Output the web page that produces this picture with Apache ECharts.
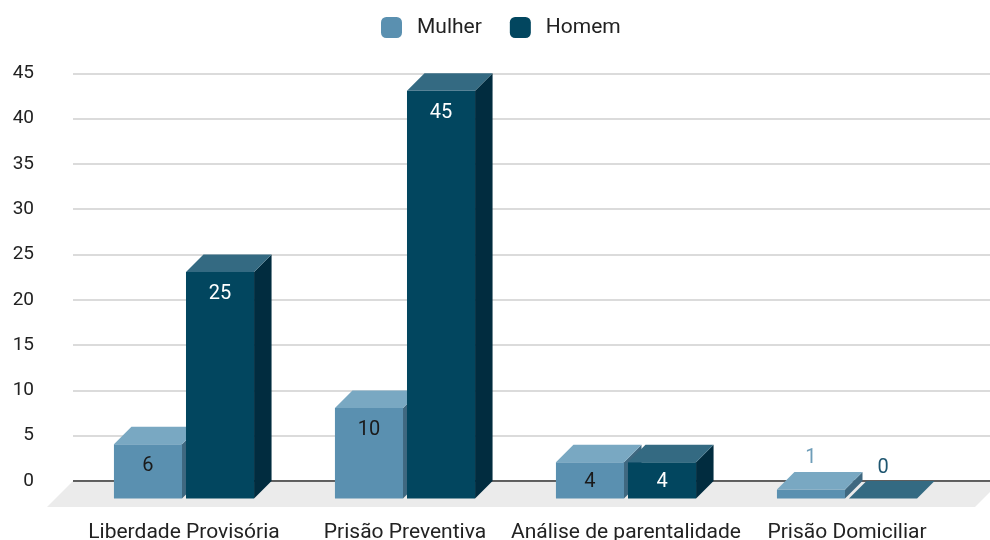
<!DOCTYPE html>
<html>
<head>
<meta charset="utf-8">
<script src="https://cdn.jsdelivr.net/npm/echarts@6/dist/echarts.min.js"></script>
<style>
  html, body { margin: 0; padding: 0; background: #fff; }
  #chart { width: 990px; height: 540px; }
</style>
</head>
<body>
<div id="chart"></div>
<script>
// dados
var categories = ['Liberdade Provisória', 'Prisão Preventiva', 'Análise de parentalidade', 'Prisão Domiciliar'];
var mulher = [6, 10, 4, 1];
var homem = [25, 45, 4, 0];
var yMin = 0, yMax = 45, yStep = 5;

// cores: frente, topo, lado
var coresMulher = { front: '#5a90b0', top: '#79a8c2', side: '#3f6880', label: '#1a1a1a' };
var coresHomem = { front: '#02465f', top: '#346a82', side: '#012c3f', label: '#ffffff' };

var DEPTH = 17.5;
var fonte = 'Roboto, "Noto Sans", sans-serif';

var box = document.getElementById('chart');
var myChart = echarts.init(box);

/* barra 3D: frente, lado e topo */
var barra3d = function (idx, cores) {
    return function (params, api) {
        var band = api.size([1, 0])[0];
        var c = api.coord([api.value(0), api.value(1)]);
        var base = api.coord([api.value(0), 0]);
        var bw = band * 0.308, gap = band * 0.018, d = DEPTH;
        var x0 = c[0] - gap / 2 - bw + idx * (bw + gap);
        var yTop = c[1] + d, yBot = base[1] + d;
        var h = yBot - yTop;
        var children = [];
        if (h > 0) {
            children.push({ type: 'rect', shape: { x: x0, y: yTop, width: bw, height: h }, style: { fill: cores.front } });
            children.push({ type: 'polygon', shape: { points: [[x0 + bw, yTop], [x0 + bw + d, yTop - d], [x0 + bw + d, yBot - d], [x0 + bw, yBot]] }, style: { fill: cores.side } });
        }
        children.push({ type: 'polygon', shape: { points: [[x0, yTop], [x0 + bw, yTop], [x0 + bw + d, yTop - d], [x0 + d, yTop - d]] }, style: { fill: cores.top } });
        var ly, cor;
        if (h >= 20) {
            ly = Math.min(yTop + 22, (yTop + yBot) / 2 + 2);
            cor = cores.label;
        } else {
            ly = yTop - 31;
            cor = idx === 0 ? '#6e9db8' : '#1f5670';
        }
        children.push({
            type: 'text',
            style: { text: String(api.value(1)), x: x0 + bw / 2, y: ly, align: 'center', verticalAlign: 'middle', fill: cor, font: '20px ' + fonte }
        });
        return { type: 'group', children: children };
    };
};

/* chão cinza + linha do zero */
var chao = function (params, api) {
    var cs = params.coordSys;
    var y0 = api.coord([0, 0])[1];
    var f = 26;
    var xl = cs.x, xr = cs.x + cs.width + 11;
    return {
        type: 'group',
        children: [
            { type: 'polygon', shape: { points: [[xl, y0], [xr, y0], [xr - f, y0 + f], [xl - f, y0 + f]] }, style: { fill: '#ebebeb' } },
            { type: 'line', shape: { x1: cs.x, y1: y0, x2: cs.x + cs.width, y2: y0 }, style: { stroke: '#333', lineWidth: 1.5 } }
        ]
    };
};

var options = {
    animation: false,
    textStyle: { fontFamily: fonte },
    legend: {
        left: 376,
        top: 12,
        itemWidth: 21,
        itemHeight: 21,
        itemGap: 28,
        icon: 'roundRect',
        textStyle: { fontSize: 21, color: '#222', padding: [0, 0, 0, 10] },
        data: ['Mulher', 'Homem']
    },
    grid: [
        { left: 73, right: 0, top: 73.3, bottom: 59, outerBoundsMode: 'none', containLabel: false },
        { left: 73.5, right: 32.5, top: 73.3, bottom: 59, outerBoundsMode: 'none', containLabel: false }
    ],
    xAxis: [
        { gridIndex: 0, type: 'value', min: 0, max: 1, show: false },
        {
            gridIndex: 1, type: 'category', data: categories,
            axisLine: { show: false }, axisTick: { show: false },
            axisLabel: { interval: 0, margin: 41, fontSize: 21, color: '#222' }
        }
    ],
    yAxis: [
        {
            gridIndex: 0, type: 'value', min: yMin, max: yMax, interval: yStep,
            axisLine: { show: false }, axisTick: { show: false },
            axisLabel: { margin: 39, fontSize: 19, color: '#222', padding: [4, 0, 0, 0] },
            splitLine: { lineStyle: { color: '#cfcfcf', width: 1.5 } }
        },
        { gridIndex: 1, type: 'value', min: yMin, max: yMax, interval: yStep, show: false, splitLine: { show: false } }
    ],
    series: [
        {
            type: 'custom', name: 'chao', xAxisIndex: 0, yAxisIndex: 0, z: 1,
            renderItem: chao, data: [[0, 0]], silent: true
        },
        {
            type: 'custom', name: 'Mulher', xAxisIndex: 1, yAxisIndex: 1, z: 3,
            itemStyle: { color: coresMulher.front },
            renderItem: barra3d(0, coresMulher),
            encode: { x: 0, y: 1 },
            data: mulher.map(function (v, i) { return [i, v]; })
        },
        {
            type: 'custom', name: 'Homem', xAxisIndex: 1, yAxisIndex: 1, z: 4,
            itemStyle: { color: coresHomem.front },
            renderItem: barra3d(1, coresHomem),
            encode: { x: 0, y: 1 },
            data: homem.map(function (v, i) { return [i, v]; })
        }
    ]
};
myChart.setOption(options);
</script>
</body>
</html>
